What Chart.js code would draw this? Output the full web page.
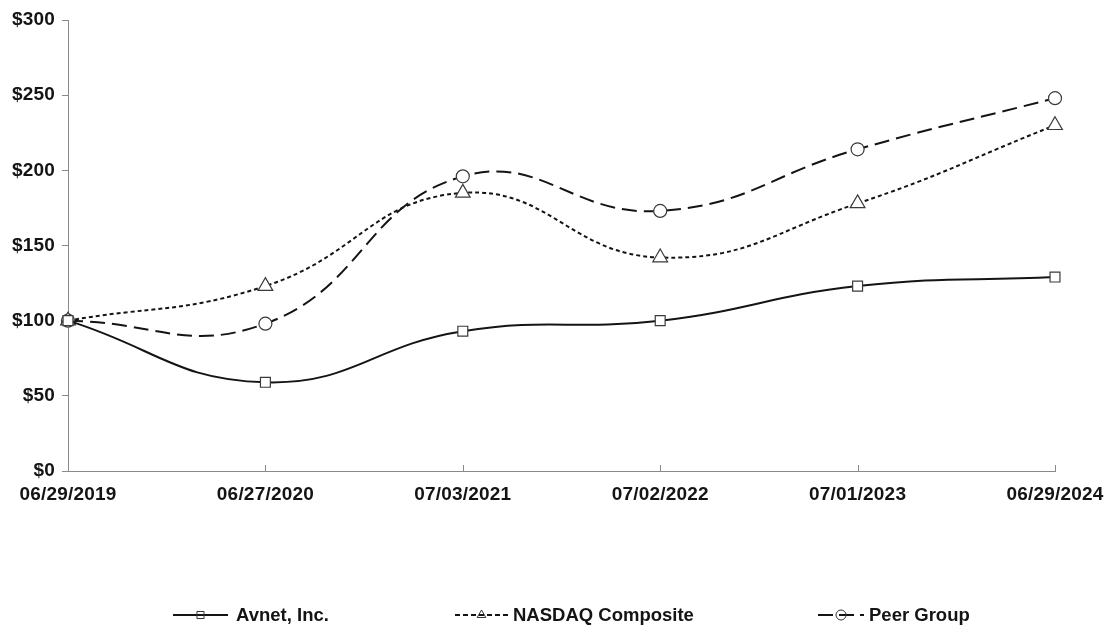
<!DOCTYPE html>
<html>
<head>
<meta charset="utf-8">
<script src="https://cdn.jsdelivr.net/npm/chart.js@4.4.1/dist/chart.umd.min.js"></script>
<style>
  html, body { margin: 0; padding: 0; background: #fff; }
  #wrap { width: 1109px; height: 631px; position: relative; }
</style>
</head>
<body>
<div id="wrap"><canvas id="grafico"></canvas></div>
<script>
const fechas = ["06/29/2019", "06/27/2020", "07/03/2021", "07/02/2022", "07/01/2023", "06/29/2024"];
const avnet = [100, 59, 93, 100, 123, 129];
const nasdaq = [100, 123, 185, 142, 178, 230];
const peer = [100, 98, 196, 173, 214, 248];
const yTicks = [0, 50, 100, 150, 200, 250, 300];

const fuente = "'Liberation Sans', Arial, sans-serif";
const negro = "#141414";

// slightly wider letters like the original
const espaciado = {
  id: "espaciado",
  beforeDraw(chart) {
    chart.ctx.letterSpacing = "0.2px";
  },
};

// legend drawn by hand: line sample with an open marker in the middle
const leyendaPlugin = {
  id: "leyenda",
  afterDraw(chart) {
    const ctx = chart.ctx;
    const items = [
      { x: 173, w: 55, tx: 236, dash: [], ds: chart.data.datasets[0] },
      { x: 455, w: 53, tx: 513, dash: [5, 3], ds: chart.data.datasets[1] },
      { x: 818, w: 46, tx: 869, dash: [15, 6], ds: chart.data.datasets[2] },
    ];
    const y = 615;
    ctx.save();
    ctx.letterSpacing = "0px";
    items.forEach((it) => {
      const ds = it.ds;
      ctx.strokeStyle = negro;
      ctx.lineWidth = 2;
      ctx.setLineDash(it.dash);
      ctx.beginPath();
      ctx.moveTo(it.x, y);
      ctx.lineTo(it.x + it.w, y);
      ctx.stroke();
      ctx.setLineDash([]);
      ctx.fillStyle = "rgba(0,0,0,0)";
      ctx.strokeStyle = "#333";
      ctx.lineWidth = 1;
      Chart.helpers.drawPoint(ctx, {
        pointStyle: ds.pointStyle,
        radius: 5,
        rotation: 0,
        borderWidth: 1,
      }, it.x + it.w / 2, y);
      ctx.font = "bold 18.5px " + fuente;
      ctx.fillStyle = negro;
      ctx.textBaseline = "middle";
      ctx.fillText(ds.label, it.tx, y + 1);
    });
    ctx.restore();
  },
};

// small tick marks pointing up from the x axis
const ticksX = {
  id: "ticksX",
  afterDraw(chart) {
    const ctx = chart.ctx;
    const xs = chart.scales.x;
    const bottom = chart.chartArea.bottom;
    ctx.save();
    ctx.strokeStyle = "#8a8a8a";
    ctx.lineWidth = 1;
    xs.ticks.forEach((t, i) => {
      if (i === 0) return;
      const px = Math.round(xs.getPixelForTick(i)) + 0.5;
      ctx.beginPath();
      ctx.moveTo(px, bottom);
      ctx.lineTo(px, bottom - 6);
      ctx.stroke();
    });
    ctx.restore();
  },
};

const serie = (label, data, style, dash, r) => ({
  label: label,
  data: data,
  borderColor: negro,
  borderWidth: 2,
  borderDash: dash,
  tension: 0.45,
  fill: false,
  pointStyle: style,
  pointRadius: r,
  pointBackgroundColor: "#fff",
  pointBorderColor: "#3a3a3a",
  pointBorderWidth: 1.2,
});

const grafico = new Chart(document.getElementById("grafico"), {
  type: "line",
  data: {
    labels: fechas,
    datasets: [
      serie("Avnet, Inc.", avnet, "rect", [], 7),
      serie("NASDAQ Composite", nasdaq, "triangle", [4, 3], 8.5),
      serie("Peer Group", peer, "circle", [15, 7], 6.5),
    ],
  },
  options: {
    responsive: true,
    maintainAspectRatio: false,
    animation: false,
    layout: { padding: { left: 8, right: 54, top: 20, bottom: 120 } },
    plugins: { legend: { display: false }, tooltip: { enabled: false } },
    scales: {
      x: {
        offset: false,
        afterFit: (s) => { s.height = 40; },
        grid: { display: false, drawOnChartArea: false },
        border: { display: true, color: "#8a8a8a", width: 1 },
        ticks: {
          padding: 4,
          maxRotation: 0,
          autoSkip: false,
          color: negro,
          font: { family: fuente, size: 19, weight: "bold" },
        },
      },
      y: {
        min: 0,
        max: 300,
        afterFit: (s) => { s.width = 60; },
        afterBuildTicks: (s) => { s.ticks = yTicks.map((v) => ({ value: v })); },
        grid: { drawOnChartArea: false, tickLength: 6, color: "#8a8a8a" },
        border: { display: true, color: "#8a8a8a", width: 1 },
        ticks: {
          padding: 7,
          color: negro,
          font: { family: fuente, size: 19, weight: "bold" },
          callback: (v) => "$" + v,
        },
      },
    },
  },
  plugins: [espaciado, leyendaPlugin, ticksX],
});
</script>
</body>
</html>
